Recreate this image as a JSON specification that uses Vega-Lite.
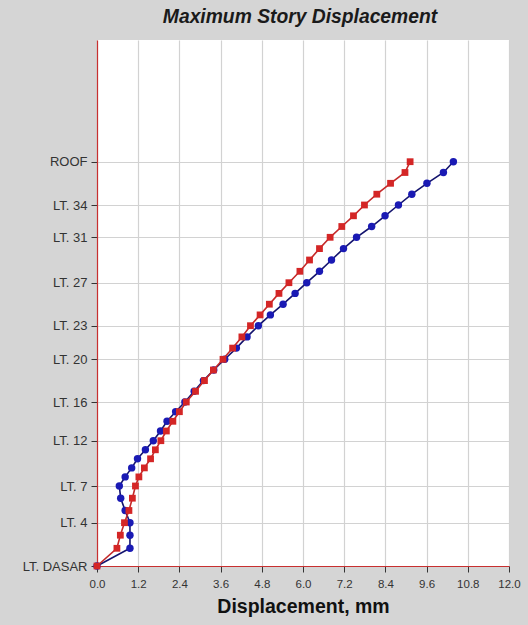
{
  "$schema": "https://vega.github.io/schema/vega-lite/v6.json",
  "autosize": "none",
  "width": 412,
  "height": 526,
  "padding": {"left": 97, "top": 40, "right": 19, "bottom": 59},
  "background": "#d5d5d5",
  "view": {"fill": "white", "stroke": null},
  "title": {
    "text": "Maximum Story Displacement",
    "font": "Liberation Sans",
    "fontSize": 19.3,
    "fontWeight": "bold",
    "fontStyle": "italic",
    "color": "#1a1a1a",
    "anchor": "middle",
    "frame": "group",
    "offset": 13,
    "dx": -3
  },
  "data": {
    "values": [
      {"story": "LT. DASAR", "elev": 0, "X": 0, "Y": 0},
      {"story": "LT. 2", "elev": 5.31, "X": 0.58, "Y": 0.96},
      {"story": "LT. 3", "elev": 9.24, "X": 0.68, "Y": 0.96},
      {"story": "LT. 4", "elev": 12.99, "X": 0.80, "Y": 0.96},
      {"story": "LT. 5", "elev": 16.65, "X": 0.93, "Y": 0.82},
      {"story": "LT. 6", "elev": 20.34, "X": 1.03, "Y": 0.69},
      {"story": "LT. 7", "elev": 24, "X": 1.12, "Y": 0.65},
      {"story": "LT. 8", "elev": 26.73, "X": 1.22, "Y": 0.82},
      {"story": "LT. 9", "elev": 29.43, "X": 1.38, "Y": 1.01},
      {"story": "LT. 10", "elev": 32.16, "X": 1.56, "Y": 1.18},
      {"story": "LT. 11", "elev": 34.86, "X": 1.70, "Y": 1.41},
      {"story": "LT. 12", "elev": 37.59, "X": 1.86, "Y": 1.64},
      {"story": "LT. 13", "elev": 40.5, "X": 2.02, "Y": 1.85},
      {"story": "LT. 14", "elev": 43.41, "X": 2.21, "Y": 2.04},
      {"story": "LT. 15", "elev": 46.29, "X": 2.40, "Y": 2.29},
      {"story": "LT. 16", "elev": 49.2, "X": 2.60, "Y": 2.56},
      {"story": "LT. 17", "elev": 52.41, "X": 2.87, "Y": 2.83},
      {"story": "LT. 18", "elev": 55.62, "X": 3.13, "Y": 3.10},
      {"story": "LT. 19", "elev": 58.8, "X": 3.39, "Y": 3.40},
      {"story": "LT. 20", "elev": 62.01, "X": 3.67, "Y": 3.72},
      {"story": "LT. 21", "elev": 65.37, "X": 3.95, "Y": 4.06},
      {"story": "LT. 22", "elev": 68.73, "X": 4.22, "Y": 4.37},
      {"story": "LT. 23", "elev": 72.09, "X": 4.47, "Y": 4.70},
      {"story": "LT. 24", "elev": 75.33, "X": 4.75, "Y": 5.05},
      {"story": "LT. 25", "elev": 78.54, "X": 5.02, "Y": 5.42},
      {"story": "LT. 26", "elev": 81.78, "X": 5.30, "Y": 5.77},
      {"story": "LT. 27", "elev": 84.99, "X": 5.59, "Y": 6.11},
      {"story": "LT. 28", "elev": 88.41, "X": 5.91, "Y": 6.48},
      {"story": "LT. 29", "elev": 91.8, "X": 6.19, "Y": 6.83},
      {"story": "LT. 30", "elev": 95.22, "X": 6.48, "Y": 7.18},
      {"story": "LT. 31", "elev": 98.61, "X": 6.79, "Y": 7.56},
      {"story": "LT. 32", "elev": 101.85, "X": 7.13, "Y": 8.00},
      {"story": "LT. 33", "elev": 105.06, "X": 7.47, "Y": 8.39},
      {"story": "LT. 34", "elev": 108.3, "X": 7.79, "Y": 8.78},
      {"story": "LT. 35", "elev": 111.54, "X": 8.15, "Y": 9.17},
      {"story": "LT. 36", "elev": 114.81, "X": 8.55, "Y": 9.61},
      {"story": "LT. 37", "elev": 118.05, "X": 8.97, "Y": 10.09},
      {"story": "ROOF", "elev": 121.29, "X": 9.12, "Y": 10.38}
    ]
  },
  "transform": [{"fold": ["X", "Y"], "as": ["direction", "disp"]}],
  "encoding": {
    "x": {
      "field": "disp",
      "type": "quantitative",
      "scale": {"domain": [0, 12], "nice": false, "zero": false},
      "axis": {
        "values": [0, 1.2, 2.4, 3.6, 4.8, 6, 7.2, 8.4, 9.6, 10.8, 12],
        "format": ".1f",
        "labelFlush": false,
        "labelOverlap": false,
        "title": "Displacement, mm",
        "titleFont": "Liberation Sans",
        "titleFontSize": 19.5,
        "titleFontWeight": "bold",
        "titleColor": "#111111",
        "titlePadding": 8,
        "labelFont": "Liberation Sans",
        "labelFontSize": 11.5,
        "labelColor": "#333333",
        "labelPadding": 6,
        "tickColor": "#333333",
        "tickSize": 6,
        "domainColor": "#c83030",
        "domainWidth": 1.2,
        "grid": true,
        "gridColor": "#d2d2d2",
        "gridWidth": 1.2
      }
    },
    "y": {
      "field": "elev",
      "type": "quantitative",
      "scale": {"domain": [0, 157.8], "nice": false, "zero": false},
      "axis": {
        "values": [0, 12.99, 24, 37.59, 49.2, 62.01, 72.09, 84.99, 98.61, 108.3, 121.29],
        "labelExpr": "datum.value < 1 ? 'LT. DASAR' : datum.value < 13.5 ? 'LT. 4' : datum.value < 25 ? 'LT. 7' : datum.value < 38 ? 'LT. 12' : datum.value < 50 ? 'LT. 16' : datum.value < 63 ? 'LT. 20' : datum.value < 73 ? 'LT. 23' : datum.value < 86 ? 'LT. 27' : datum.value < 99 ? 'LT. 31' : datum.value < 109 ? 'LT. 34' : 'ROOF'",
        "labelFlush": false,
        "labelOverlap": false,
        "title": null,
        "labelFont": "Liberation Sans",
        "labelFontSize": 13,
        "labelColor": "#333333",
        "labelPadding": 4,
        "tickColor": "#333333",
        "tickSize": 6,
        "domainColor": "#c83030",
        "domainWidth": 1.2,
        "grid": true,
        "gridColor": "#d2d2d2",
        "gridWidth": 1.2
      }
    },
    "order": {"field": "elev", "type": "quantitative"}
  },
  "layer": [
    {
      "transform": [{"filter": "datum.direction === 'Y'"}],
      "mark": {"type": "line", "color": "#14146e", "strokeWidth": 1.6},
      "encoding": {}
    },
    {
      "transform": [{"filter": "datum.direction === 'Y'"}],
      "mark": {"type": "point", "shape": "circle", "filled": true, "color": "#1a1ab4", "size": 55, "opacity": 1},
      "encoding": {}
    },
    {
      "transform": [{"filter": "datum.direction === 'X'"}],
      "mark": {"type": "line", "color": "#c42a2a", "strokeWidth": 1.6},
      "encoding": {}
    },
    {
      "transform": [{"filter": "datum.direction === 'X'"}],
      "mark": {"type": "point", "shape": "square", "filled": true, "color": "#d42626", "size": 46, "opacity": 1},
      "encoding": {}
    }
  ]
}
